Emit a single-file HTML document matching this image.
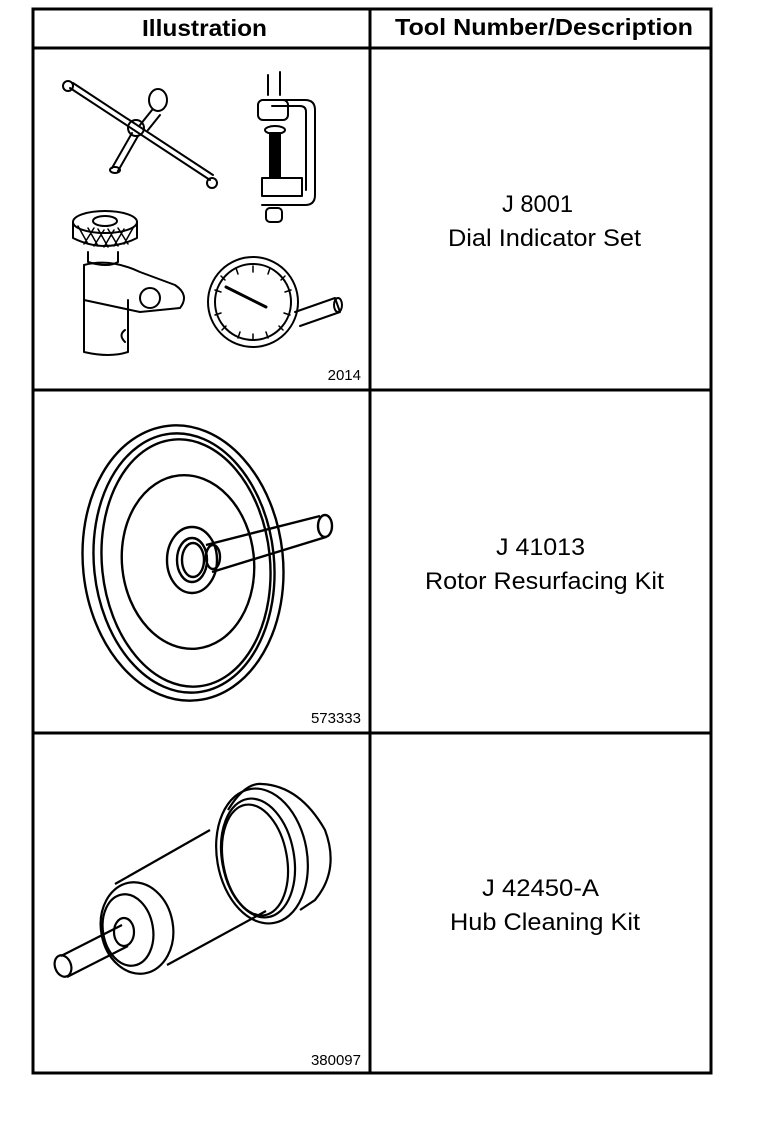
<!DOCTYPE html>
<html><head><meta charset="utf-8"><style>
html,body{margin:0;padding:0;background:#fff;}
svg{display:block;}
text{font-family:"Liberation Sans",Arial,sans-serif;fill:#000;}
</style></head><body>
<svg width="768" height="1130" viewBox="0 0 768 1130" xmlns="http://www.w3.org/2000/svg">
<g fill="none" stroke="#000" stroke-width="3">
<rect x="33" y="9" width="678" height="1064"/>
<line x1="370" y1="9" x2="370" y2="1073"/>
<line x1="33" y1="48" x2="711" y2="48"/>
<line x1="33" y1="390" x2="711" y2="390"/>
<line x1="33" y1="733" x2="711" y2="733"/>
</g>
<text x="142" y="36" font-size="23" font-weight="bold" textLength="125" lengthAdjust="spacingAndGlyphs">Illustration</text>
<text x="395" y="35" font-size="23" font-weight="bold" textLength="298" lengthAdjust="spacingAndGlyphs">Tool Number/Description</text>
<g font-size="24">
<text x="502" y="212" textLength="71" lengthAdjust="spacingAndGlyphs">J 8001</text>
<text x="448" y="246" textLength="193" lengthAdjust="spacingAndGlyphs">Dial Indicator Set</text>
<text x="496" y="555" textLength="89" lengthAdjust="spacingAndGlyphs">J 41013</text>
<text x="425" y="589" textLength="239" lengthAdjust="spacingAndGlyphs">Rotor Resurfacing Kit</text>
<text x="482" y="896" textLength="117" lengthAdjust="spacingAndGlyphs">J 42450-A</text>
<text x="450" y="930" textLength="190" lengthAdjust="spacingAndGlyphs">Hub Cleaning Kit</text>
</g>
<g font-size="15" text-anchor="end">
<text x="361" y="380">2014</text>
<text x="361" y="723">573333</text>
<text x="361" y="1065">380097</text>
</g>

<!-- Dial indicator set row -->
<g fill="none" stroke="#000" stroke-width="2" stroke-linecap="round" stroke-linejoin="round">
<line x1="70" y1="88" x2="210" y2="180"/>
<line x1="73" y1="83" x2="213" y2="175"/>
<circle cx="68" cy="86" r="5"/>
<circle cx="212" cy="183" r="5"/>
<line x1="112" y1="168" x2="132" y2="133"/>
<line x1="118" y1="171" x2="138" y2="136"/>
<ellipse cx="115" cy="170" rx="5" ry="3"/>
<circle cx="136" cy="128" r="8"/>
<line x1="140" y1="125" x2="152" y2="110"/>
<line x1="148" y1="130" x2="160" y2="115"/>
<ellipse cx="158" cy="100" rx="9" ry="11"/>
<path d="M268 75 L268 95 M280 72 L280 95"/>
<path d="M262 100 L305 100 Q315 100 315 110 L315 195 Q315 205 305 205 L262 205"/>
<path d="M272 106 L300 106 Q306 106 306 112 L306 190"/>
<rect x="258" y="100" width="30" height="20" rx="5"/>
<ellipse cx="275" cy="130" rx="10" ry="4"/>
<rect x="270" y="133" width="10" height="45" fill="#000"/>
<rect x="262" y="178" width="40" height="18"/>
<rect x="266" y="208" width="16" height="14" rx="4"/>
<ellipse cx="105" cy="222" rx="32" ry="11"/>
<path d="M73 222 L73 238 Q105 254 137 238 L137 222"/>
<path d="M78 226 L88 244 M88 228 L98 246 M98 229 L108 247 M108 229 L118 246 M118 228 L128 244 M84 244 L94 228 M94 246 L104 230 M104 247 L114 230 M114 246 L124 229 M124 244 L133 228" stroke-width="1.5"/>
<ellipse cx="105" cy="221" rx="12" ry="5"/>
<path d="M88 252 L88 262 Q108 268 118 262 L118 252"/>
<path d="M84 265 L84 352 Q110 358 128 352 L128 300"/>
<path d="M84 265 Q110 258 140 272 L175 285 Q190 295 180 308 L140 312 L84 300"/>
<circle cx="150" cy="298" r="10"/>
<path d="M125 330 Q118 335 125 342"/>
<circle cx="253" cy="302" r="45"/>
<circle cx="253" cy="302" r="38"/>
<line x1="226" y1="287" x2="266" y2="307" stroke-width="3"/>
<path d="M295 312 L335 298 L340 312 L300 326"/>
<ellipse cx="338" cy="305" rx="4" ry="7"/>
<g stroke-width="1.5">
<path d="M253 266 L253 272 M270 268 L268 274 M285 276 L281 280 M236 268 L238 274 M221 276 L225 280 M215 290 L221 292 M215 315 L221 313 M222 330 L226 326 M238 338 L240 332 M253 340 L253 334 M268 338 L266 332 M283 330 L279 326 M290 315 L284 313 M291 290 L285 292"/>
</g>
</g>

<!-- Rotor -->
<g fill="none" stroke="#000" stroke-width="2.4">
<ellipse cx="183" cy="563" rx="100" ry="138" transform="rotate(-6 183 563)"/>
<ellipse cx="184" cy="563" rx="90" ry="130" transform="rotate(-6 184 563)"/>
<ellipse cx="186" cy="563" rx="84" ry="124" transform="rotate(-6 186 563)"/>
<ellipse cx="188" cy="562" rx="66" ry="87" transform="rotate(-6 188 562)"/>
<ellipse cx="192" cy="560" rx="25" ry="33"/>
<ellipse cx="192" cy="560" rx="15" ry="22"/>
<ellipse cx="193" cy="560" rx="11" ry="17"/>
<path d="M206 545 L320 516 M212 572 L326 537" fill="#fff"/>
<ellipse cx="213" cy="557" rx="7" ry="12"/>
<ellipse cx="325" cy="526" rx="7" ry="11"/>
</g>

<!-- Hub cleaning -->
<g fill="none" stroke="#000" stroke-width="2.2">
<path d="M228 810 Q245 782 262 784 Q300 786 325 830 Q340 870 315 900 L300 910"/>
<ellipse cx="262" cy="856" rx="45" ry="68" transform="rotate(-10 262 856)"/>
<ellipse cx="258" cy="858" rx="36" ry="60" transform="rotate(-10 258 858)"/>
<ellipse cx="255" cy="860" rx="32" ry="56" transform="rotate(-10 255 860)"/>
<line x1="115" y1="884" x2="210" y2="830"/>
<line x1="167" y1="965" x2="266" y2="911"/>
<ellipse cx="137" cy="928" rx="36" ry="46" transform="rotate(-10 137 928)"/>
<ellipse cx="128" cy="930" rx="25" ry="36" transform="rotate(-10 128 930)"/>
<ellipse cx="124" cy="932" rx="10" ry="14"/>
<line x1="61" y1="956" x2="122" y2="925"/>
<line x1="67" y1="977" x2="128" y2="946"/>
<ellipse cx="63" cy="966" rx="8" ry="11" transform="rotate(-20 63 966)"/>
</g>
</svg>
</body></html>
